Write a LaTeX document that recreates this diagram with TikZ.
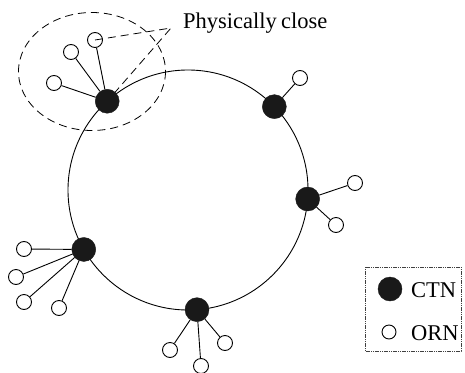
\documentclass[tikz,border=0pt]{standalone}
\usepackage{fontspec}
\setmainfont{Liberation Serif}
\usetikzlibrary{calc}
\begin{document}
\begin{tikzpicture}[x=1pt,y=-1pt,
  ctn/.style={circle,fill=black!90,draw=black!90,minimum size=24pt,inner sep=0pt},
  orn/.style={circle,fill=white,draw=black,line width=0.9pt,minimum size=15pt,inner sep=0pt},
  link/.style={line width=0.9pt},
  lbl/.style={font=\fontsize{22.5}{26}\selectfont,inner sep=0pt},
  note/.style={line width=0.8pt,dash pattern=on 8pt off 5pt}]
\useasboundingbox (0,0) rectangle (465,372);
% ring
\coordinate (c) at (188,190);
\draw[line width=0.9pt] (c) circle[radius=120];
% CTNs
\node[ctn] (n1) at ($(c)+(227.7:120)$) {};
\node[ctn] (n2) at ($(c)+(-44:120)$) {};
\node[ctn] (n3) at ($(c)+(4.3:120)$) {};
\node[ctn] (n4) at ($(c)+(150.3:120)$) {};
\node[ctn] (n5) at ($(c)+(85.7:120)$) {};
% ORNs
\node[orn] (o11) at (95,40) {};
\node[orn] (o12) at (71,52) {};
\node[orn] (o13) at (54,83) {};
\node[orn] (o21) at (300,78) {};
\node[orn] (o31) at (355,183) {};
\node[orn] (o32) at (336,225) {};
\node[orn] (o41) at (24,249) {};
\node[orn] (o42) at (16,277) {};
\node[orn] (o43) at (24,302) {};
\node[orn] (o44) at (59,308) {};
\node[orn] (o51) at (170,350) {};
\node[orn] (o52) at (201,366) {};
\node[orn] (o53) at (225,343) {};
\foreach \a/\b in {n1/o11,n1/o12,n1/o13,n2/o21,n3/o31,n3/o32,n4/o41,n4/o42,n4/o43,n4/o44,n5/o51,n5/o52,n5/o53}
  \draw[link] (\a) -- (\b);
% physically close
\draw[note] (92,71.5) ellipse[x radius=73.5, y radius=59];
\node[lbl,anchor=base west] (pc) at (183,28) {Physically\hspace{-1.5pt} close};
\coordinate (apex) at (171,28);
\draw[note] (o11.center) -- (apex) -- (n1);
% legend
\draw[line width=0.7pt,black!75,dash pattern=on 1.2pt off 0.6pt] (365,267) rectangle (461,351);
\node[ctn] (lc) at (390,289) {};
\node[orn,minimum size=14pt] (lo) at (389,332) {};
\node[lbl,anchor=base west] (tc) at (411,297) {CTN};
\node[lbl,anchor=base west] (to) at (411,340) {ORN};
\end{tikzpicture}
\end{document}
